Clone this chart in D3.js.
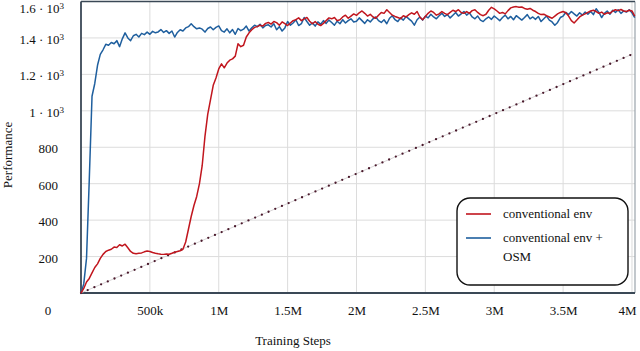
<!DOCTYPE html>
<html>
<head>
<meta charset="utf-8">
<script src="https://cdn.jsdelivr.net/npm/d3@7"></script>
<style>
  html, body { margin: 0; padding: 0; background: #fff; }
  svg { display: block; font-family: "Liberation Serif", "Times New Roman", serif; }
</style>
</head>
<body>
<svg id="chart" width="640" height="351"></svg>
<script>
// ---- data ----
const stepsK = [0,20,40,60,80,100,120,140,160,180,200,220,240,260,280,300,320,340,360,380,
400,420,440,460,480,500,520,540,560,580,600,620,640,660,680,700,720,740,760,780,
800,820,840,860,880,900,920,940,960,980,1000,1020,1040,1060,1080,1100,1120,1140,1160,1180,
1200,1220,1240,1260,1280,1300,1320,1340,1360,1380,1400,1420,1440,1460,1480,1500,1520,1540,1560,1580,
1600,1620,1640,1660,1680,1700,1720,1740,1760,1780,1800,1820,1840,1860,1880,1900,1920,1940,1960,1980,
2000,2020,2040,2060,2080,2100,2120,2140,2160,2180,2200,2220,2240,2260,2280,2300,2320,2340,2360,2380,
2400,2420,2440,2460,2480,2500,2520,2540,2560,2580,2600,2620,2640,2660,2680,2700,2720,2740,2760,2780,
2800,2820,2840,2860,2880,2900,2920,2940,2960,2980,3000,3020,3040,3060,3080,3100,3120,3140,3160,3180,
3200,3220,3240,3260,3280,3300,3320,3340,3360,3380,3400,3420,3440,3460,3480,3500,3520,3540,3560,3580,
3600,3620,3640,3660,3680,3700,3720,3740,3760,3780,3800,3820,3840,3860,3880,3900,3920,3940,3960,3980,
4000,4020];

const conventional = [0,25,60,80,110,140,160,190,212,228,
235,240,252,250,265,258,268,248,228,218,
216,218,220,226,230,228,222,218,215,213,
212,214,213,218,224,228,232,240,280,350,
420,480,530,600,700,860,980,1060,1140,1180,
1230,1258,1236,1262,1278,1285,1300,1368,1352,1360,
1405,1428,1445,1458,1462,1470,1465,1480,1485,1476,
1490,1484,1470,1488,1478,1468,1482,1495,1500,1510,
1495,1505,1512,1492,1478,1490,1475,1468,1480,1495,
1510,1505,1512,1495,1500,1515,1525,1508,1520,1532,
1524,1538,1548,1535,1520,1530,1515,1508,1525,1540,
1535,1555,1540,1525,1518,1512,1506,1522,1515,1528,
1538,1530,1545,1515,1500,1518,1535,1548,1540,1525,
1532,1545,1535,1528,1540,1552,1545,1555,1540,1535,
1545,1535,1550,1555,1540,1528,1522,1530,1552,1568,
1560,1548,1535,1540,1532,1550,1565,1570,1572,1568,
1570,1562,1558,1562,1552,1545,1535,1528,1530,1522,
1515,1508,1520,1532,1540,1545,1538,1520,1495,1482,
1498,1515,1525,1532,1540,1548,1552,1545,1535,1542,
1530,1538,1535,1548,1555,1550,1556,1548,1545,1552,
1548,1520];

const withOSM = [0,50,190,620,1080,1150,1250,1310,1335,1365,
1360,1375,1368,1385,1352,1395,1428,1400,1385,1412,
1420,1405,1425,1418,1432,1420,1436,1428,1433,1446,
1430,1440,1425,1438,1405,1430,1445,1438,1455,1462,
1478,1462,1450,1455,1448,1432,1452,1460,1445,1458,
1466,1440,1432,1450,1428,1446,1420,1452,1440,1448,
1465,1438,1456,1470,1462,1475,1455,1468,1472,1460,
1478,1445,1462,1438,1455,1490,1470,1482,1500,1468,
1478,1512,1490,1470,1482,1465,1488,1475,1495,1480,
1498,1485,1470,1492,1478,1500,1482,1495,1505,1488,
1492,1510,1495,1480,1500,1488,1505,1515,1495,1485,
1500,1478,1508,1522,1500,1490,1510,1498,1518,1505,
1492,1470,1500,1515,1498,1520,1510,1530,1515,1505,
1522,1535,1518,1528,1510,1525,1540,1520,1532,1545,
1525,1538,1515,1505,1520,1498,1490,1505,1515,1502,
1520,1508,1495,1512,1525,1505,1518,1500,1522,1510,
1498,1512,1528,1505,1515,1502,1518,1490,1505,1520,
1498,1488,1470,1485,1512,1520,1540,1528,1545,1532,
1520,1538,1525,1542,1530,1545,1528,1560,1540,1512,
1535,1548,1530,1552,1540,1555,1535,1548,1542,1555,
1538,1512];

const baselineSteps = [0, 4000];      // thousands of steps
const baselineValues = [0, 1310];

const xTicks = [500, 1000, 1500, 2000, 2500, 3000, 3500, 4000];
const xTickLabels = ["500k", "1M", "1.5M", "2M", "2.5M", "3M", "3.5M", "4M"];
const yTicks = [200, 400, 600, 800, 1000, 1200, 1400, 1600];
const yTickLabels = ["200", "400", "600", "800", "1 · 10^3", "1.2 · 10^3", "1.4 · 10^3", "1.6 · 10^3"];
const seriesNames = ["conventional env", "conventional env +|OSM"];
const seriesColors = ["#c1161e", "#1f5f9e"];

// ---- drawing ----
const svg = d3.select("#chart");
const x = d3.scaleLinear().domain([0, 4022]).range([81, 635]);
const y = d3.scaleLinear().domain([0, 1600]).range([293, 1.5]);

// grid
const grid = svg.append("g").attr("stroke", "#dcdcdc").attr("stroke-width", 1);
grid.selectAll("line.gx").data(xTicks).join("line")
  .attr("x1", d => x(d)).attr("x2", d => x(d)).attr("y1", y(1600)).attr("y2", y(0));
grid.selectAll("line.gy").data(yTicks).join("line")
  .attr("x1", x(0)).attr("x2", x(4022)).attr("y1", d => y(d)).attr("y2", d => y(d));

// axes
const xAxis = d3.axisBottom(x).tickValues(xTicks).tickFormat((d, i) => xTickLabels[i]).tickSize(0).tickPadding(13);
const gx = svg.append("g").attr("transform", `translate(0,${y(0)})`).call(xAxis);
gx.select(".domain").remove();
gx.selectAll("text").attr("font-size", 13).attr("font-family", "Liberation Serif").attr("fill", "#111")
  .attr("text-anchor", (d, i) => i === xTicks.length - 1 ? "end" : "middle")
  .attr("dx", (d, i) => i === xTicks.length - 1 ? 4 : 0);

const yAxis = d3.axisLeft(y).tickValues(yTicks).tickFormat((d, i) => yTickLabels[i]).tickSize(0).tickPadding(23);
const gy = svg.append("g").attr("transform", `translate(${x(0)},0)`).call(yAxis);
gy.select(".domain").remove();
gy.selectAll("text").attr("font-size", 13).attr("font-family", "Liberation Serif").attr("fill", "#111")
  .attr("dy", (d, i) => i === yTicks.length - 1 ? "0.88em" : "0.42em")
  .each(function(d, i) {
    const lab = yTickLabels[i];
    if (lab.includes("^")) {
      const [base, exp] = lab.split("^");
      const t = d3.select(this);
      t.text(null).attr("x", -17);
      t.append("tspan").text(base);
      t.append("tspan").attr("dy", "-0.45em").attr("font-size", 9).text(exp);
    }
  });

// corner zero label
svg.append("text").attr("x", 48).attr("y", 315).attr("text-anchor", "middle")
  .attr("font-size", 13).attr("fill", "#111").text("0");

// frame
svg.append("line").attr("x1", x(4022)).attr("x2", x(4022)).attr("y1", y(1600)).attr("y2", y(0))
  .attr("stroke", "#9aa3ab").attr("stroke-width", 1.2);
svg.append("line").attr("x1", x(0)).attr("x2", x(4022)).attr("y1", y(1600)).attr("y2", y(1600))
  .attr("stroke", "#3a4856").attr("stroke-width", 1.3);
svg.append("line").attr("x1", x(0)).attr("x2", x(0)).attr("y1", y(1600)).attr("y2", y(0))
  .attr("stroke", "#3a4856").attr("stroke-width", 1.8);
svg.append("line").attr("x1", x(0)).attr("x2", x(4022)).attr("y1", y(0)).attr("y2", y(0))
  .attr("stroke", "#3a4856").attr("stroke-width", 1.8);

// dotted baseline
const baseLine = d3.line().x((d, i) => x(baselineSteps[i])).y(d => y(d));
svg.append("path").datum(baselineValues).attr("d", baseLine)
  .attr("fill", "none").attr("stroke", "#c8c3c6").attr("stroke-width", 0.7);
svg.append("path").datum(baselineValues).attr("d", baseLine)
  .attr("fill", "none").attr("stroke", "#4a1a2c").attr("stroke-width", 2.3)
  .attr("stroke-linecap", "round").attr("stroke-dasharray", "0,7.3");

// series
const line = d3.line().x((d, i) => x(stepsK[i])).y(d => y(d));
svg.append("path").datum(withOSM).attr("d", line)
  .attr("fill", "none").attr("stroke", seriesColors[1]).attr("stroke-width", 1.5).attr("stroke-linejoin", "round");
svg.append("path").datum(conventional).attr("d", line)
  .attr("fill", "none").attr("stroke", seriesColors[0]).attr("stroke-width", 1.5).attr("stroke-linejoin", "round");

// axis titles
svg.append("text").attr("x", 293).attr("y", 345).attr("text-anchor", "middle")
  .attr("font-size", 13).attr("fill", "#111").text("Training Steps");
svg.append("text").attr("transform", "translate(12,155) rotate(-90)").attr("text-anchor", "middle")
  .attr("font-size", 13).attr("fill", "#111").text("Performance");

// legend
const lg = svg.append("g");
lg.append("rect").attr("x", 457).attr("y", 198).attr("width", 171).attr("height", 87)
  .attr("rx", 13).attr("fill", "#fff").attr("stroke", "#111").attr("stroke-width", 1.4);
const rowsY = [214, 238];
seriesNames.forEach((name, i) => {
  lg.append("line").attr("x1", 466).attr("x2", 491).attr("y1", rowsY[i]).attr("y2", rowsY[i])
    .attr("stroke", seriesColors[i]).attr("stroke-width", 1.6);
  name.split("|").forEach((part, j) => {
    lg.append("text").attr("x", 503).attr("y", rowsY[i] + 4 + j * 19)
      .attr("font-size", 13).attr("fill", "#111").text(part);
  });
});
</script>
</body>
</html>
